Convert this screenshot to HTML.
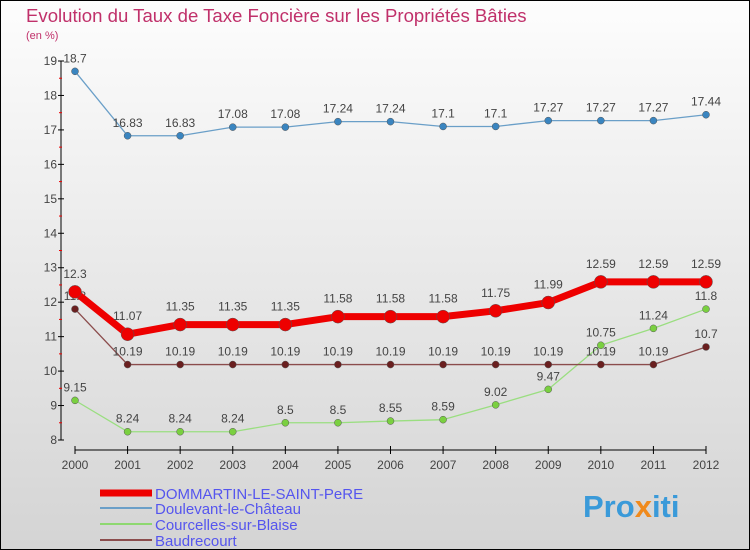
<!DOCTYPE html>
<html><head><meta charset="utf-8"><style>
body{margin:0}
#c{width:750px;height:550px;position:relative;overflow:hidden;font-family:"Liberation Sans",sans-serif}
</style></head><body>
<div id="c">
<svg id="s" width="750" height="550" xmlns="http://www.w3.org/2000/svg">
<defs><linearGradient id="bg" x1="0" y1="0" x2="0" y2="1"><stop offset="0" stop-color="#fdfdfd"/><stop offset="1" stop-color="#d4d4d4"/></linearGradient></defs>
<rect x="0.5" y="0.5" width="749" height="549" fill="url(#bg)" stroke="#000"/>
<text x="26" y="22" font-size="18.6" fill="#c0306a">Evolution du Taux de Taxe Foncière sur les Propriétés Bâties</text>
<text x="26" y="39" font-size="11" fill="#c0306a">(en %)</text>
<g id="axes"></g><g id="series"></g>
<g>
<line x1="100" y1="493" x2="152" y2="493" stroke="#e00" stroke-width="7"/>
<text x="155" y="499" font-size="15" fill="#5555ee">DOMMARTIN-LE-SAINT-PeRE</text>
<line x1="100" y1="508" x2="152" y2="508" stroke="#6a9fc8" stroke-width="2"/>
<text x="155" y="514" font-size="15" fill="#5555ee">Doulevant-le-Château</text>
<line x1="100" y1="524" x2="152" y2="524" stroke="#8ed870" stroke-width="2"/>
<text x="155" y="530" font-size="15" fill="#5555ee">Courcelles-sur-Blaise</text>
<line x1="100" y1="540" x2="152" y2="540" stroke="#8b4c4c" stroke-width="2"/>
<text x="155" y="546" font-size="15" fill="#5555ee">Baudrecourt</text>
</g>
<text x="583" y="517" font-size="31" font-weight="bold" fill="#3a9ad9">Pro<tspan fill="#f08a1c">x</tspan>iti</text>
</svg></div>
<script>
const years=[2000,2001,2002,2003,2004,2005,2006,2007,2008,2009,2010,2011,2012];
const yTicks=[8,9,10,11,12,13,14,15,16,17,18,19];
const dommartin=[12.3,11.07,11.35,11.35,11.35,11.58,11.58,11.58,11.75,11.99,12.59,12.59,12.59];
const doulevant=[18.7,16.83,16.83,17.08,17.08,17.24,17.24,17.1,17.1,17.27,17.27,17.27,17.44];
const courcelles=[9.15,8.24,8.24,8.24,8.5,8.5,8.55,8.59,9.02,9.47,10.75,11.24,11.8];
const baudrecourt=[11.8,10.19,10.19,10.19,10.19,10.19,10.19,10.19,10.19,10.19,10.19,10.19,10.7];
const NS="http://www.w3.org/2000/svg";
const x=i=>75+i*(706-75)/12;
const y=v=>440-(v-8)*(440-61)/11;
function mk(t,a,p){const e=document.createElementNS(NS,t);for(const k in a)e.setAttribute(k,a[k]);p.appendChild(e);return e;}
const ax=document.getElementById('axes');
let l=mk('line',{x1:61,y1:y(19),x2:61,y2:y(8),stroke:'#000'},ax);


l=mk('line',{x1:x(0),y1:450,x2:x(12),y2:450,stroke:'#000'},ax);


yTicks.forEach(v=>{
 mk('line',{x1:58,y1:y(v),x2:64,y2:y(v),stroke:'#000'},ax);
 if(v<19)mk('line',{x1:59,y1:y(v+0.5),x2:62,y2:y(v+0.5),stroke:'#e00'},ax);
 const t=mk('text',{x:57,y:y(v)+4,'font-size':12,fill:'#444','text-anchor':'end'},ax);t.textContent=v;
 
 
});
years.forEach((yr,i)=>{
 mk('line',{x1:x(i),y1:446,x2:x(i),y2:454,stroke:'#000'},ax);
 const t=mk('text',{x:x(i),y:469,'font-size':12,fill:'#444','text-anchor':'middle'},ax);t.textContent=yr;
 
 
});
const sg=document.getElementById('series');
function draw(vals,name,col,w,r,dot,labOff){
 const g=mk('g',{},sg);
 
 
 const p=mk('polyline',{points:vals.map((v,i)=>x(i)+','+y(v)).join(' '),fill:'none',stroke:col,'stroke-width':w,'stroke-linejoin':'round'},g);
 
 
 vals.forEach((v,i)=>{
  const c=mk('circle',{cx:x(i),cy:y(v),r:r,fill:dot,stroke:'#555','stroke-width':0.5},g);
  
  
  const t=mk('text',{x:x(i),y:y(v)+labOff,'font-size':12,fill:'#444','text-anchor':'middle'},g);t.textContent=v;
  
  
 });
}
draw(doulevant,'doulevant','#6a9fc8',1.3,3.5,'#3a85c0',-9);
draw(courcelles,'courcelles','#9ade80',1.3,3.5,'#7ad040',-9);
draw(baudrecourt,'baudrecourt','#8b4c4c',1.3,3.5,'#6a1f1f',-9);
draw(dommartin,'dommartin','#ee0000',7,6.5,'#ee0000',-14);
</script>
</body></html>
